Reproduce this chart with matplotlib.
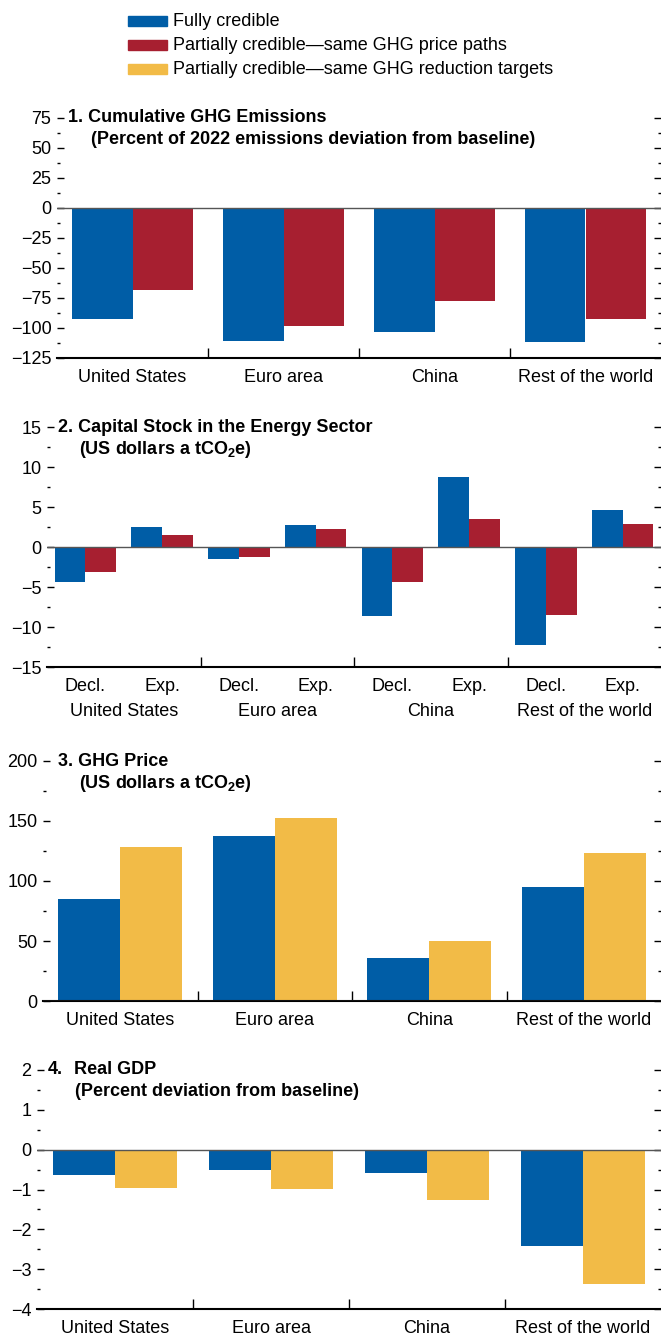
import matplotlib
matplotlib.use("Agg")
import matplotlib.pyplot as plt
from matplotlib.patches import Rectangle
from matplotlib.ticker import MultipleLocator, FixedLocator, NullFormatter
import numpy as np

plt.rcParams['font.family'] = ['Liberation Sans', 'DejaVu Sans']
plt.rcParams['mathtext.fontset'] = 'custom'
plt.rcParams['mathtext.rm'] = 'Liberation Sans:bold'
plt.rcParams['mathtext.bf'] = 'Liberation Sans:bold'
plt.rcParams['mathtext.default'] = 'rm'

BLUE = '#005DA6'
RED = '#A71F30'
YELLOW = '#F2BB47'

regions = ['United States', 'Euro area', 'China', 'Rest of the world']
sub_labels = ['Decl.', 'Exp.']
legend_labels = ['Fully credible',
                 'Partially credible\u2014same GHG price paths',
                 'Partially credible\u2014same GHG reduction targets']

# 1. cumulative GHG emissions
emis_full = [-92.8, -111.0, -103.6, -112.0]
emis_price = [-68.6, -98.6, -77.8, -92.8]
# 2. capital stock (declining / expanding sectors)
cap_full_decl = [-4.4, -1.5, -8.6, -12.25]
cap_full_exp = [2.46, 2.7, 8.7, 4.58]
cap_price_decl = [-3.1, -1.25, -4.4, -8.5]
cap_price_exp = [1.46, 2.2, 3.46, 2.83]
# 3. GHG price
price_full = [84.7, 137.2, 35.6, 94.7]
price_target = [128.0, 152.2, 49.7, 123.0]
# 4. real GDP
gdp_full = [-0.63, -0.51, -0.58, -2.41]
gdp_target = [-0.96, -0.98, -1.27, -3.36]

W, H = 661, 1337
fig = plt.figure(figsize=(W / 100, H / 100), dpi=100)
FS = 13


def add_ax(left, top, bottom):
    return fig.add_axes([left / W, 1 - bottom / H, (W - left) / W, (bottom - top) / H])


def style(ax, lo, hi, step):
    ax.set_ylim(lo, hi)
    ax.set_xlim(-0.5, 3.5)
    ax.yaxis.set_major_locator(MultipleLocator(step))
    ax.yaxis.set_minor_locator(MultipleLocator(step / 2))
    ax.yaxis.set_minor_formatter(NullFormatter())
    ax.yaxis.set_major_formatter(plt.FuncFormatter(lambda v, p: ('%g' % v).replace('-', '\u2212')))
    for s in ['left', 'right', 'top']:
        ax.spines[s].set_visible(False)
    ax.spines['bottom'].set_linewidth(1.5)
    ax.tick_params(axis='y', which='major', direction='in', length=5, width=1,
                   left=True, right=True, labelsize=FS, pad=4)
    ax.tick_params(axis='y', which='minor', direction='in', length=2, width=1,
                   left=True, right=True)
    ax.xaxis.set_minor_locator(FixedLocator([0.5, 1.5, 2.5]))
    ax.tick_params(axis='x', which='minor', direction='in', length=7, width=1)
    ax.tick_params(axis='x', which='major', length=0, labelsize=FS, pad=8)
    ax.axhline(0, color='#555555', lw=1, zorder=3)


def title(x1, x2, y, t1, t2):
    fig.text(x1 / W, 1 - y / H, t1, fontsize=FS, fontweight='bold', va='center')
    fig.text(x2 / W, 1 - (y + 22) / H, t2, fontsize=FS, fontweight='bold', va='center')


x = np.arange(len(regions))

# legend
for i, (c, lab) in enumerate(zip([BLUE, RED, YELLOW], legend_labels)):
    yc = 21 + 24 * i
    fig.patches.append(Rectangle((128 / W, 1 - (yc + 5) / H), 39 / W, 10 / H,
                                 transform=fig.transFigure, color=c))
    fig.text(173 / W, 1 - yc / H, lab, fontsize=FS, va='center')

# panel 1
ax1 = add_ax(57, 118, 358)
ax1.bar(x - 0.2, emis_full, 0.4, color=BLUE)
ax1.bar(x + 0.2, emis_price, 0.4, color=RED)
style(ax1, -125, 75, 25)
ax1.set_xticks(x)
ax1.set_xticklabels(regions)
title(68, 91, 118, '1. Cumulative GHG Emissions',
      '(Percent of 2022 emissions deviation from baseline)')

# panel 2
ax2 = add_ax(47, 427, 667)
pos_decl = x - 0.25
pos_exp = x + 0.25
ax2.bar(pos_decl - 0.1, cap_full_decl, 0.2, color=BLUE)
ax2.bar(pos_decl + 0.1, cap_price_decl, 0.2, color=RED)
ax2.bar(pos_exp - 0.1, cap_full_exp, 0.2, color=BLUE)
ax2.bar(pos_exp + 0.1, cap_price_exp, 0.2, color=RED)
style(ax2, -15, 15, 5)
ax2.set_xticks(np.concatenate([pos_decl, pos_exp]))
ax2.set_xticklabels(sub_labels[:1] * 4 + sub_labels[1:] * 4)
for xi, r in zip(x, regions):
    ax2.text(xi, -45 / 240, r, transform=ax2.get_xaxis_transform(),
             ha='center', va='center', fontsize=FS)
title(58, 79, 427, '2. Capital Stock in the Energy Sector',
      '(US dollars a tCO$_2$e)')

# panel 3
ax3 = add_ax(43, 761, 1001)
ax3.bar(x - 0.2, price_full, 0.4, color=BLUE)
ax3.bar(x + 0.2, price_target, 0.4, color=YELLOW)
style(ax3, 0, 200, 50)
ax3.set_xticks(x)
ax3.set_xticklabels(regions)
title(58, 79, 761, '3. GHG Price', '(US dollars a tCO$_2$e)')

# panel 4
ax4 = add_ax(37, 1070, 1309)
ax4.bar(x - 0.2, gdp_full, 0.4, color=BLUE)
ax4.bar(x + 0.2, gdp_target, 0.4, color=YELLOW)
style(ax4, -4, 2, 1)
ax4.set_xticks(x)
ax4.set_xticklabels(regions)
fig.text(48 / W, 1 - 1070 / H, '4.', fontsize=FS, fontweight='bold', va='center')
title(74, 75, 1070, 'Real GDP', '(Percent deviation from baseline)')

fig.savefig('out.png', dpi=100)
